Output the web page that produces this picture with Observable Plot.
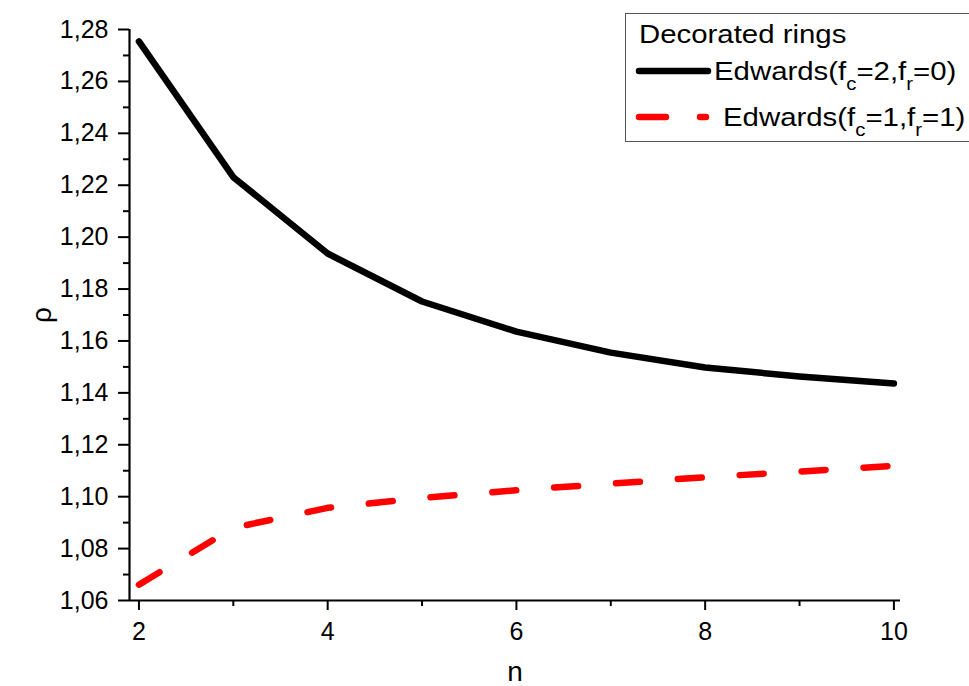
<!DOCTYPE html>
<html>
<head>
<meta charset="utf-8">
<script src="https://cdn.jsdelivr.net/npm/d3@7"></script>
<script src="https://cdn.jsdelivr.net/npm/@observablehq/plot@0.6"></script>
<style>
  html, body { margin: 0; padding: 0; background: #fff; overflow: hidden; }
  #wrap { position: relative; width: 969px; height: 686px; overflow: hidden; font-family: "Liberation Sans", Arial, sans-serif; }
  g[aria-label="x-axis label"] text, g[aria-label="y-axis label"] text { font-size: 28px; }
  #legend { position: absolute; left: 625px; top: 13px; width: 600px; height: 129px; border: 1.5px solid #555; border-right: none; box-sizing: border-box; background: #fff; }
  #legend .t { position: absolute; font-size: 26px; color: #000; white-space: nowrap; line-height: 1; transform: scaleX(1.13); transform-origin: 0 0; }
  #legend sub { font-size: 18px; vertical-align: -10px; line-height: 0; }
  #legend svg { position: absolute; left: 0; top: 0; }
</style>
</head>
<body>
<div id="wrap"></div>
<script>
const n = [2, 3, 4, 5, 6, 7, 8, 9, 10];
const edwards20 = [1.2754, 1.2231, 1.1937, 1.1752, 1.1636, 1.1555, 1.1498, 1.1463, 1.1436];
const edwards11 = [1.0661, 1.0880, 1.0957, 1.0995, 1.1025, 1.1050, 1.1075, 1.1097, 1.1119];
const yMajor = [1.06, 1.08, 1.10, 1.12, 1.14, 1.16, 1.18, 1.20, 1.22, 1.24, 1.26, 1.28];
const yMinor = [1.07, 1.09, 1.11, 1.13, 1.15, 1.17, 1.19, 1.21, 1.23, 1.25, 1.27];
const xMajor = [2, 4, 6, 8, 10];
const xMinor = [3, 5, 7, 9];
const seriesNames = ["Edwards(fc=2,fr=0)", "Edwards(fc=1,fr=1)"];
const legendTitle = "Decorated rings";

const d20 = n.map((v, i) => ({n: v, rho: edwards20[i]}));
const d11 = n.map((v, i) => ({n: v, rho: edwards11[i]}));
const fmt = d => d.toFixed(2).replace(".", ",");

const chart = Plot.plot({
  width: 969,
  height: 686,
  marginLeft: 129,
  marginRight: 69,
  marginTop: 29,
  marginBottom: 86,
  style: {fontFamily: "'Liberation Sans', Arial, sans-serif", fontSize: "25px", color: "#000", background: "#fff"},
  x: {domain: [1.9, 10.07]},
  y: {domain: [1.06, 1.28]},
  marks: [
    Plot.axisY(yMajor, {tickSize: 11, tickPadding: 10, tickFormat: fmt, stroke: "#000", strokeWidth: 2, fontSize: 25, label: "ρ", labelAnchor: "center", labelOffset: 98, labelArrow: "none"}),
    Plot.axisY(yMinor, {tickSize: 6, tickFormat: () => "", stroke: "#000", strokeWidth: 2, label: null}),
    Plot.axisX(xMajor, {tickSize: 10, tickPadding: 12, tickFormat: d => String(d), stroke: "#000", strokeWidth: 2, fontSize: 25, label: "n", labelAnchor: "center", labelOffset: 80, labelArrow: "none"}),
    Plot.axisX(xMinor, {tickSize: 6, tickFormat: () => "", stroke: "#000", strokeWidth: 2, label: null}),
    Plot.ruleX([1.9], {stroke: "#000", strokeWidth: 2.2}),
    Plot.ruleY([1.06], {stroke: "#000", strokeWidth: 2.2}),
    Plot.line(d20, {x: "n", y: "rho", stroke: "#000", strokeWidth: 6.5, strokeLinecap: "round", strokeLinejoin: "round"}),
    Plot.line(d11, {x: "n", y: "rho", stroke: "#ff0000", strokeWidth: 6.5, strokeLinecap: "round", strokeLinejoin: "round", strokeDasharray: "24,38"})
  ]
});
const wrap = document.getElementById("wrap");
wrap.appendChild(chart);

const sub = s => s.replace(/f([cr])/g, "f<sub>$1</sub>");
const legend = document.createElement("div");
legend.id = "legend";
legend.innerHTML = `
  <svg width="600" height="129">
    <line x1="13" y1="57" x2="82" y2="57" stroke="#000" stroke-width="6.5" stroke-linecap="round"/>
    <line x1="13" y1="103" x2="40" y2="103" stroke="#ff0000" stroke-width="6.5" stroke-linecap="round"/>
    <line x1="74" y1="103" x2="80" y2="103" stroke="#ff0000" stroke-width="6.5" stroke-linecap="round"/>
  </svg>
  <div class="t" style="left:13px; top:7px;">${legendTitle}</div>
  <div class="t" style="left:88px; top:44px;">${sub(seriesNames[0])}</div>
  <div class="t" style="left:97px; top:90px;">${sub(seriesNames[1])}</div>
`;
wrap.appendChild(legend);
</script>
</body>
</html>
